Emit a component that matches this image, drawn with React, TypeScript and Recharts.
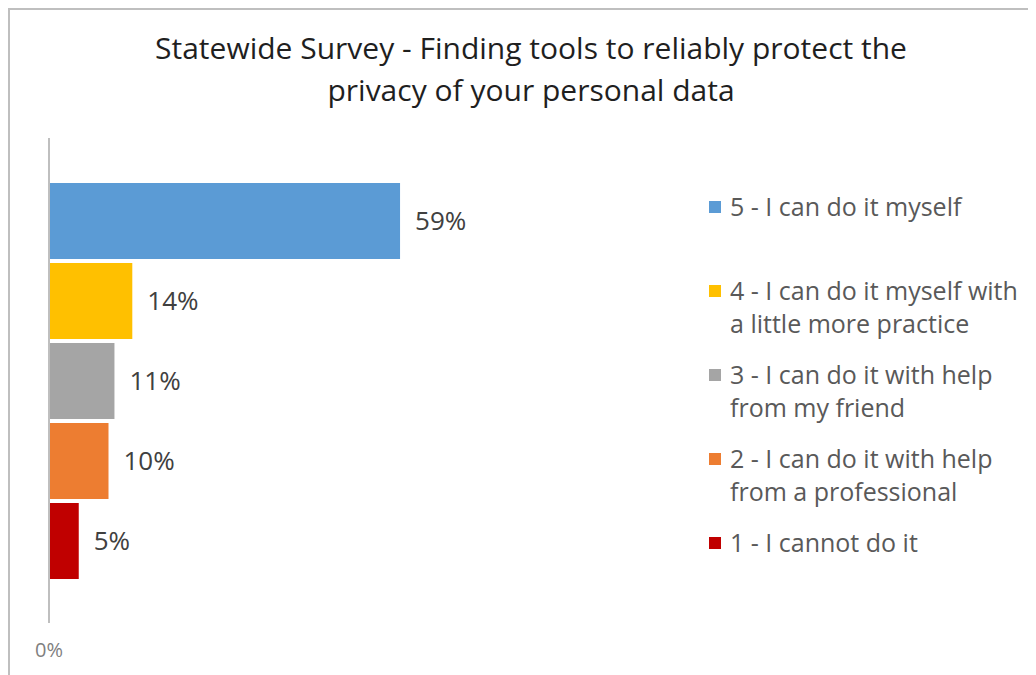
import { BarChart, Bar, XAxis, YAxis, Legend, LabelList } from "recharts"

const TITLE_LINES = [
  "Statewide Survey - Finding tools to reliably protect the",
  "privacy of your personal data",
]
const CATEGORY = "Statewide"
const SERIES_NAMES = [
  "5 - I can do it myself",
  "4 - I can do it myself with a little more practice",
  "3 - I can do it with help from my friend",
  "2 - I can do it with help from a professional",
  "1 - I cannot do it",
]
const SERIES_KEYS = ["s5", "s4", "s3", "s2", "s1"]
const VALUES = [59, 14, 11, 10, 5]
const COLORS = ["#5b9bd5", "#ffc000", "#a5a5a5", "#ed7d31", "#c00000"]
const X_TICKS = [0]

const row: Record<string, string | number> = { name: CATEGORY }
SERIES_KEYS.forEach((k, i) => {
  row[k] = VALUES[i]
})
const data = [row]

const FONT = "'Open Sans', Lato, sans-serif"

function LegendBox({ payload }: any) {
  // keep legend in the series order (vertical layout reverses it)
  const items = [...(payload || [])].sort(
    (a: any, b: any) => SERIES_NAMES.indexOf(a.value) - SERIES_NAMES.indexOf(b.value)
  )
  return (
    <div style={{ fontFamily: FONT }}>
      {items.map((p: any) => (
        <div key={p.value} style={{ height: 84, display: "flex", alignItems: "flex-start" }}>
          <span
            style={{
              width: 12,
              height: 12,
              background: p.color,
              marginTop: 11,
              marginRight: 9,
              flex: "none",
            }}
          />
          <span style={{ fontSize: 25, lineHeight: "33px", color: "#595959", width: 300 }}>
            {p.value}
          </span>
        </div>
      ))}
    </div>
  )
}

export default function App() {
  return (
    <div
      style={{
        position: "relative",
        width: 1026,
        height: 665,
        borderLeft: "2px solid #bfbfbf",
        borderTop: "2px solid #bfbfbf",
        background: "#fff",
        overflow: "hidden",
        fontFamily: FONT,
      }}
    >
      <div
        style={{
          position: "absolute",
          left: 71,
          top: 17,
          width: 900,
          textAlign: "center",
          fontSize: 30,
          lineHeight: "42px",
          color: "#1f1f1f",
        }}
      >
        {TITLE_LINES.map((t) => (
          <div key={t}>{t}</div>
        ))}
      </div>
      <BarChart
        width={1026}
        height={665}
        data={data}
        layout="vertical"
        margin={{ top: 128, left: 29, right: 392, bottom: 12 }}
        barSize={76}
        barGap={4}
      >
        <XAxis
          type="number"
          domain={[0, 100]}
          ticks={X_TICKS}
          tickFormatter={(v) => `${v}%`}
          axisLine={false}
          tickLine={false}
          tickSize={0}
          tickMargin={20}
          height={40}
          tick={{ fill: "#7f7f7f", fontSize: 20 }}
        />
        <YAxis
          type="category"
          dataKey="name"
          width={10}
          tick={false}
          tickLine={false}
          axisLine={{ stroke: "#bfbfbf", strokeWidth: 2 }}
        />
        <Legend
          layout="vertical"
          align="center"
          verticalAlign="middle"
          wrapperStyle={{ left: 699, top: 180, width: 327 }}
          content={<LegendBox />}
        />
        {SERIES_KEYS.map((k, i) => (
          <Bar key={k} dataKey={k} name={SERIES_NAMES[i]} fill={COLORS[i]} isAnimationActive={false}>
            <LabelList
              dataKey={k}
              position="right"
              offset={15}
              fill="#404040"
              fontSize={26}
              formatter={(v: any) => `${v}%`}
            />
          </Bar>
        ))}
      </BarChart>
    </div>
  )
}
